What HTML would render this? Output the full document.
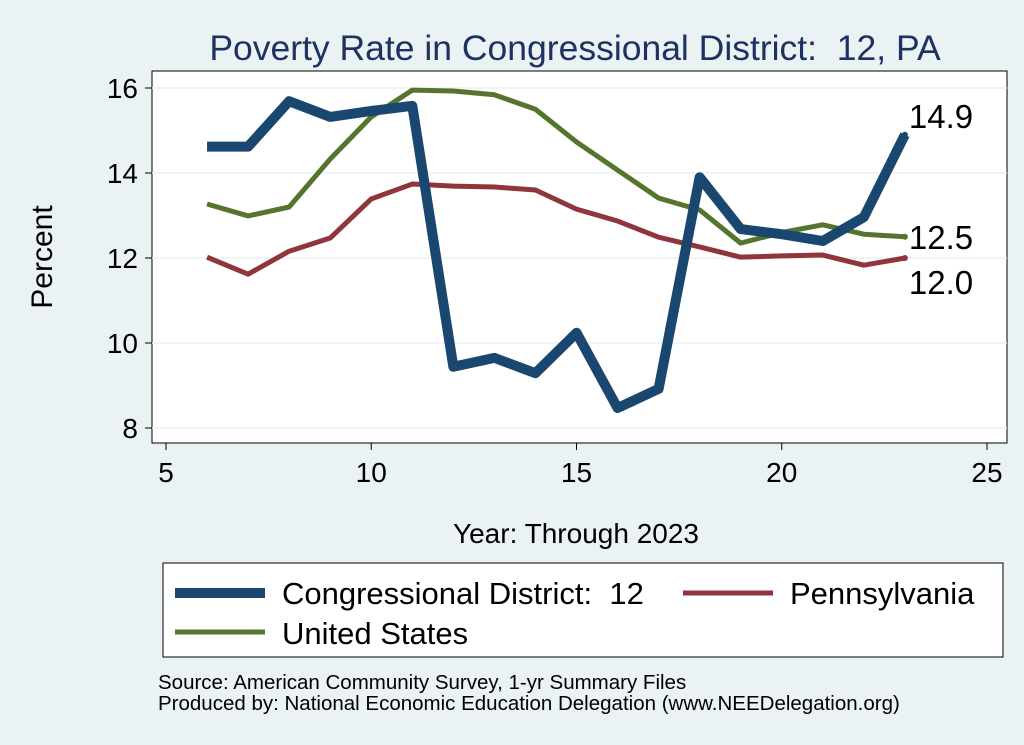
<!DOCTYPE html>
<html><head><meta charset="utf-8"><style>
body{margin:0;background:#eaf2f3;}
svg{display:block;font-family:"Liberation Sans",sans-serif;}
</style></head><body>
<svg width="1024" height="745" viewBox="0 0 1024 745">
<rect x="0" y="0" width="1024" height="745" fill="#eaf2f3"/>
<text x="575" y="60" text-anchor="middle" font-size="35.5" fill="#1e3160">Poverty Rate in Congressional District:&#160; 12, PA</text>
<rect x="152" y="71" width="855" height="372" fill="#fff" stroke="#000" stroke-width="1"/>
<g id="grid"></g><g id="axes"></g><g id="lines"></g><g id="labels"></g>
<text x="52" y="257" text-anchor="middle" font-size="30" transform="rotate(-90 52 257)">Percent</text>
<text x="576" y="543" text-anchor="middle" font-size="28">Year: Through 2023</text>
<g>
<rect x="163" y="563" width="840" height="94" fill="#fff" stroke="#000" stroke-width="1"/>
<line x1="175" y1="593" x2="265" y2="593" stroke="#1a476f" stroke-width="10"/>
<text x="282" y="604" font-size="31">Congressional District:&#160; 12</text>
<line x1="683" y1="593" x2="773" y2="593" stroke="#90353b" stroke-width="5"/>
<text x="790" y="604" font-size="31">Pennsylvania</text>
<line x1="175" y1="632" x2="265" y2="632" stroke="#55752f" stroke-width="5"/>
<text x="282" y="644" font-size="31">United States</text>
</g>
<text x="158" y="689" font-size="20.5">Source: American Community Survey, 1-yr Summary Files</text>
<text x="158" y="710" font-size="20.5">Produced by: National Economic Education Delegation (www.NEEDelegation.org)</text>
</svg>
<script>
const years=[6,7,8,9,10,11,12,13,14,15,16,17,18,19,20,21,22,23];
const cd12=[14.62,14.62,15.69,15.32,15.46,15.58,9.44,9.65,9.29,10.24,8.47,8.92,13.9,12.68,12.56,12.4,12.96,14.9];
const usa=[13.27,12.99,13.2,14.33,15.32,15.95,15.93,15.84,15.5,14.73,14.07,13.41,13.13,12.35,12.6,12.78,12.56,12.5];
const pa=[12.02,11.62,12.16,12.47,13.39,13.74,13.69,13.67,13.6,13.15,12.87,12.49,12.26,12.02,12.05,12.07,11.83,12.0];
const xTicks=[5,10,15,20,25];
const yTicks=[8,10,12,14,16];
const NS='http://www.w3.org/2000/svg';
const X=v=>166+(v-5)*41.05;
const Y=v=>88+(16-v)*42.5;
function mk(t,a,p){const e=document.createElementNS(NS,t);for(const k in a)e.setAttribute(k,a[k]);document.getElementById(p).appendChild(e);return e;}
yTicks.forEach(v=>{
 const g=mk('line',{x1:152,x2:1007,y1:Y(v),y2:Y(v),stroke:'#eaf2f3','stroke-width':1.5},'grid');
 
 
 const t=mk('line',{x1:145,x2:152,y1:Y(v),y2:Y(v),stroke:'#000'},'axes');
 
 
 const l=mk('text',{x:138,y:Y(v)+10,'text-anchor':'end','font-size':28},'axes');l.textContent=v;
 
 
});
xTicks.forEach(v=>{
 const t=mk('line',{x1:X(v),x2:X(v),y1:443,y2:450,stroke:'#000'},'axes');
 
 
 const l=mk('text',{x:X(v),y:482,'text-anchor':'middle','font-size':28},'axes');l.textContent=v;
 
 
});
function series(d,c,w,name,dy){
 const p=mk('polyline',{points:years.map((y,i)=>X(y)+','+Y(d[i])).join(' '),fill:'none',stroke:c,'stroke-width':w,'stroke-linejoin':'round'},'lines');
 
 
 const n=d.length-1;
 const dot=mk('circle',{cx:X(years[n]),cy:Y(d[n]),r:3,fill:c},'lines');
 
 
 const t=mk('text',{x:X(years[n])+4,y:Y(d[n])+dy,'font-size':33},'labels');t.textContent=d[n].toFixed(1);
 
 
}
series(usa,'#55752f',5,'line-united-states',12);
series(pa,'#90353b',5,'line-pennsylvania',36);
series(cd12,'#1a476f',10,'line-cd12',-7);
</script>
</body></html>
